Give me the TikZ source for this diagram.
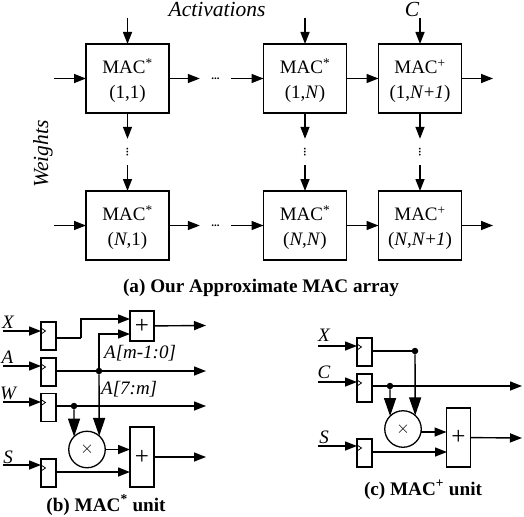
\documentclass[tikz,border=0pt]{standalone}
\usepackage{fontspec}
\setmainfont{Liberation Serif}
\usetikzlibrary{arrows.meta}

\begin{document}
\begin{tikzpicture}[x=1pt,y=-1pt,mac/.style={draw, line width=1.5pt, minimum width=83pt, minimum height=69pt, inner sep=0pt, outer sep=0pt, align=center, text height=43.5pt, text depth=4pt, font=\fontsize{19}{24.5}\selectfont},ff/.style={draw, line width=1.3pt, minimum width=15pt, minimum height=28pt, inner sep=0pt, outer sep=0pt, path picture={\draw[line width=.8pt] ([yshift=2pt]path picture bounding box.west) -- ++(4.5pt,3pt) -- ++(-4.5pt,3pt);}},adder/.style={draw, line width=1.3pt, minimum width=24pt, inner sep=0pt, outer sep=0pt, font=\fontsize{25}{25}\selectfont},mult/.style={draw, circle, line width=1.3pt, minimum size=36.5pt, inner sep=0pt, outer sep=0pt, font=\fontsize{17}{17}\selectfont},wire/.style={line width=1.4pt, -{Triangle[length=12pt,width=9pt]}},bigwire/.style={line width=1.4pt, -{Triangle[length=18pt,width=12pt]}},net/.style={circle, fill, inner sep=2.3pt},pin/.style={font=\fontsize{19}{20}\selectfont\itshape, inner sep=0pt},biglabel/.style={font=\fontsize{21.5}{22}\selectfont\itshape, inner sep=0pt},sublabel/.style={font=\fontsize{19.2}{20}\selectfont\bfseries, inner sep=0pt},hdots/.style={minimum width=31pt, inner sep=0pt, font=\fontsize{11}{11}\selectfont\bfseries},vdotsn/.style={rotate=90, minimum width=26pt, inner sep=0pt, font=\fontsize{11}{11}\selectfont\bfseries}]
\useasboundingbox (0,0) rectangle (524,516);
% array
\node[mac] (m11) at (127.5,78.5) {MAC\textsuperscript{*}\\(1,1)}; \node[mac] (m1n) at (305,78.5) {MAC\textsuperscript{*}\\(1,\textit{N})}; \node[mac] (m1c) at (420,78.5) {MAC\textsuperscript{+}\\(1,\textit{N}+\textit{1})};
\node[mac] (mn1) at (127.5,225.5) {MAC\textsuperscript{*}\\(\textit{N},1)}; \node[mac] (mnn) at (305,225.5) {MAC\textsuperscript{*}\\(\textit{N},\textit{N})}; \node[mac] (mnc) at (420,225.5) {MAC\textsuperscript{+}\\(\textit{N},\textit{N}+\textit{1})};
\node[hdots] (h1) at (215.5,78.5) {...}; \node[hdots] (hn) at (215.5,225.5) {...};
\node[vdotsn] (v1) at (127.5,152) {...}; \node[vdotsn] (vn) at (305,152) {...}; \node[vdotsn] (vc) at (420,152) {...};
\coordinate (t1) at (127.5,18); \coordinate (tn) at (305,18); \coordinate (tc) at (420,18);
\coordinate (l1) at (54,78.5); \coordinate (ln) at (54,225.5); \coordinate (r1) at (493,78.5); \coordinate (rn) at (493,225.5);
\draw[wire] (t1) -- (m11); \draw[wire] (tn) -- (m1n); \draw[wire] (tc) -- (m1c);
\draw[wire] (l1) -- (m11); \draw[wire] (m11) -- (h1); \draw[wire] (h1) -- (m1n); \draw[wire] (m1n) -- (m1c); \draw[wire] (m1c) -- (r1);
\draw[wire] (ln) -- (mn1); \draw[wire] (mn1) -- (hn); \draw[wire] (hn) -- (mnn); \draw[wire] (mnn) -- (mnc); \draw[wire] (mnc) -- (rn);
\draw[wire] (m11) -- (v1); \draw[wire] (v1) -- (mn1); \draw[wire] (m1n) -- (vn); \draw[wire] (vn) -- (mnn); \draw[wire] (m1c) -- (vc); \draw[wire] (vc) -- (mnc);
\node[biglabel] (act) at (217,9) {Activations}; \node[biglabel] (cin) at (412,9) {C}; \node[biglabel, rotate=90] (wgt) at (43,154) {Weights};
\node[sublabel] (capa) at (261,288) {(a) Our Approximate MAC array};
% MAC* unit
\node[ff] (ffx) at (48.5,336) {}; \node[ff] (ffa) at (48.5,372) {}; \node[ff] (ffw) at (48.5,407.5) {}; \node[ff] (ffs) at (48.5,473) {};
\node[adder, minimum height=30pt] (add1) at (142,326) {+}; \node[adder, minimum height=60pt] (add2) at (142,457) {+}; \node[mult] (mul) at (87,449.5) {$\times$};
\coordinate (xin) at (3,331); \coordinate (ain) at (3,366); \coordinate (win) at (3,402); \coordinate (sin) at (3,465);
\draw[wire] (xin) -- (xin -| ffx.west); \draw[wire] (ain) -- (ain -| ffa.west); \draw[wire] (win) -- (win -| ffw.west); \draw[wire] (sin) -- (sin -| ffs.west);
\coordinate (xq) at (81,338); \coordinate (xs) at (130,319); \coordinate (ac) at (130,334); \coordinate (aout) at (206,371); \coordinate (wout) at (206,406); \coordinate (sum1) at (206,325.5); \coordinate (sum2) at (206,457); \coordinate (sq) at (130,472);
\node[net] (ja) at (99,371) {}; \node[net] (jw) at (74,406) {};
\draw[line width=1.4pt, -] (xq -| ffx.east) -- (xq); \draw[wire] (xq) |- (xs);
\draw[wire] (aout -| ffa.east) -- (aout); \draw[wire] (wout -| ffw.east) -- (wout);
\draw[wire] (ja) |- (ac); \draw[bigwire] (ja) -- (mul.48); \draw[bigwire] (jw) -- (mul.135);
\draw[wire] (mul) -- (add2.west |- mul); \draw[wire] (sq -| ffs.east) -- (sq); \draw[wire] (add1) -- (sum1); \draw[wire] (add2) -- (sum2);
\node[pin] (lx) at (8,322) {X}; \node[pin] (la) at (7.5,357) {A}; \node[pin] (lw) at (8,393) {W}; \node[pin] (ls) at (8,457) {S};
\node[pin, anchor=west] (alo) at (104,353) {A[m-1:0]}; \node[pin, anchor=west] (ahi) at (101,389) {A[7:m]};
\node[sublabel] (capb) at (106,505) {(b) MAC\textsuperscript{*} unit};
% MAC+ unit
\node[ff] (ffx2) at (364.5,352) {}; \node[ff] (ffc) at (364.5,388) {}; \node[ff] (ffs2) at (364.5,453) {};
\node[adder, minimum height=59pt] (add3) at (458.5,437.5) {+}; \node[mult] (mul2) at (403,429) {$\times$};
\coordinate (xin2) at (318,346); \coordinate (cin2) at (318,382); \coordinate (sin2) at (318,446);
\draw[wire] (xin2) -- (xin2 -| ffx2.west); \draw[wire] (cin2) -- (cin2 -| ffc.west); \draw[wire] (sin2) -- (sin2 -| ffs2.west);
\coordinate (cout) at (522,386); \coordinate (sum3) at (522,438); \coordinate (sq2) at (447,452);
\node[net] (jx) at (415,351) {}; \node[net] (jc) at (390,386) {};
\draw[line width=1.4pt, -] (jx -| ffx2.east) -- (jx); \draw[wire] (cout -| ffc.east) -- (cout);
\draw[bigwire] (jx) -- (mul2.48); \draw[bigwire] (jc) -- (mul2.135);
\draw[wire] (mul2.east |- 0,432) -- (add3.west |- 0,432); \draw[wire] (sq2 -| ffs2.east) -- (sq2); \draw[wire] (add3) -- (sum3);
\node[pin] (lx2) at (324,335) {X}; \node[pin] (lc2) at (324,372) {C}; \node[pin] (ls2) at (324,437) {S};
\node[sublabel] (capc) at (423,490) {(c) MAC\textsuperscript{+} unit};
\end{tikzpicture}
\end{document}
